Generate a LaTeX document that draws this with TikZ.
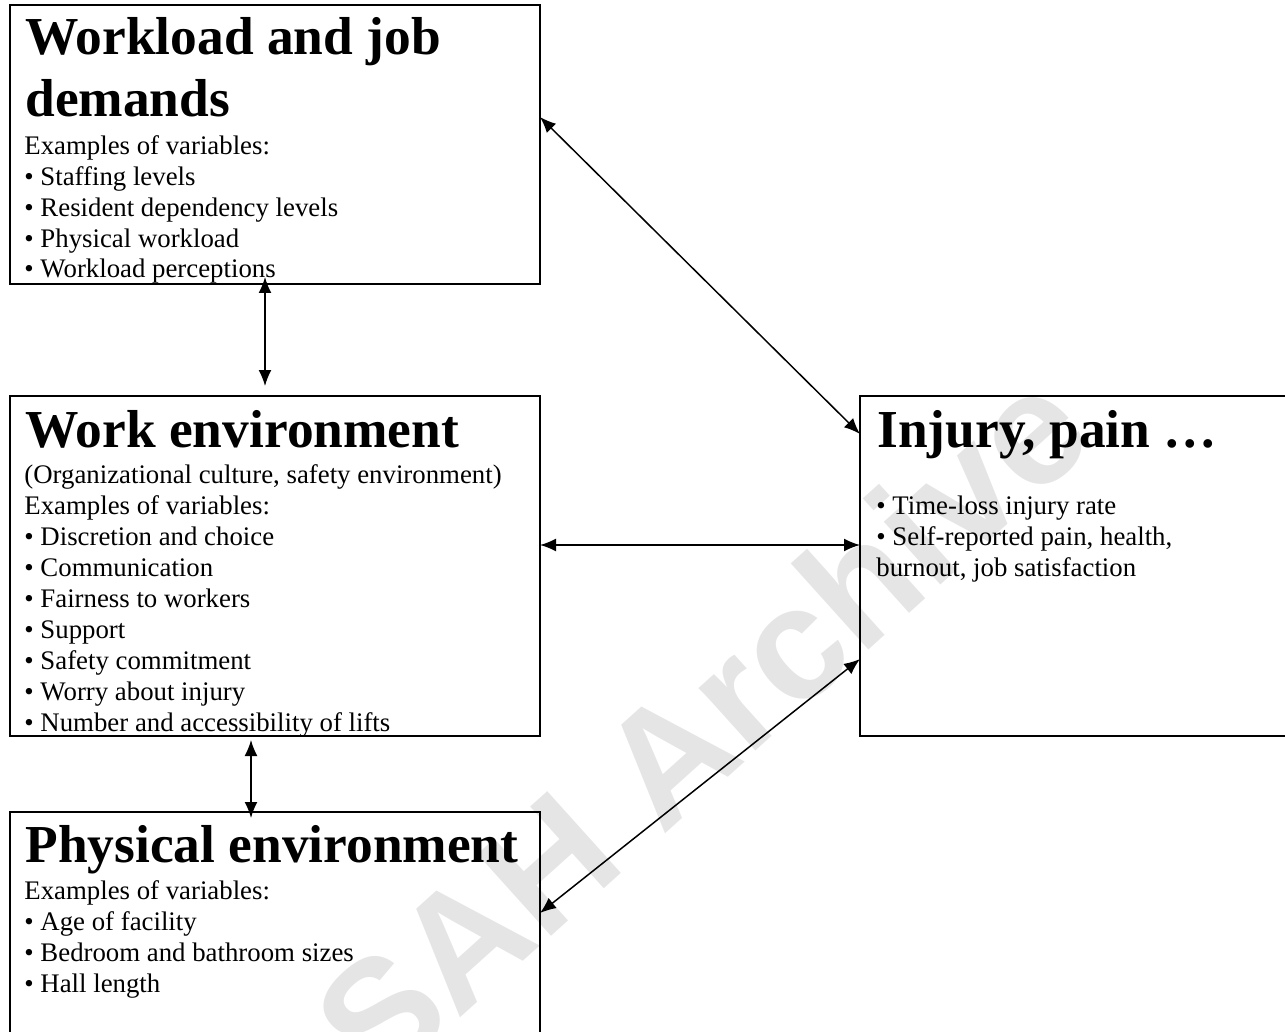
\documentclass[tikz,border=0pt]{standalone}
\usepackage{fontspec}
\setmainfont{Liberation Serif}
\newfontfamily\wmfont{Liberation Sans}
\usetikzlibrary{arrows.meta}
\begin{document}
\begin{tikzpicture}[x=0.5pt,y=-0.5pt,
  box/.style={draw=black, line width=0.8pt, anchor=north west, inner sep=0pt, outer sep=0pt},
  ttl/.style={anchor=base west, inner sep=0pt, font=\fontsize{26.7}{30}\selectfont\bfseries},
  bd/.style={anchor=base west, inner sep=0pt, font=\fontsize{13.4}{15.5}\selectfont},
  arr/.style={line width=0.75pt, {Latex[length=8pt,width=6.5pt]}-{Latex[length=8pt,width=6.5pt]}}]
\useasboundingbox (0,0) rectangle (1285,1032);
\clip (0,0) rectangle (1285,1032);
% watermark
\node[rotate=42, text=black!10, font=\wmfont\bfseries\fontsize{80}{80}\selectfont, inner sep=0pt] (wm) at (700,725) {SAH Archive};
% boxes
\node[box, minimum width=265pt, minimum height=139.5pt] (b1) at (10,5) {};
\node[box, minimum width=265pt, minimum height=170pt] (b2) at (10,396) {};
\node[box, minimum width=265pt, minimum height=125pt] (b3) at (10,812) {};
\node[box, minimum width=225pt, minimum height=170pt] (b4) at (860,396) {};
% box 1
\node[ttl] (t1a) at (25,55) {Workload and job};
\node[ttl] (t1b) at (25,117) {demands};
\node[bd] (l11) at (24,155) {Examples of variables:};
\node[bd] (l12) at (24,186) {• Staffing levels};
\node[bd] (l13) at (24,217) {• Resident dependency levels};
\node[bd] (l14) at (24,248) {• Physical workload};
\node[bd] (l15) at (24,278) {• Workload perceptions};
% box 2
\node[ttl] (t2) at (25,447) {Work environment};
\node[bd] (l21) at (24,483) {(Organizational culture, safety environment)};
\node[bd] (l22) at (24,514) {Examples of variables:};
\node[bd] (l23) at (24,545) {• Discretion and choice};
\node[bd] (l24) at (24,576) {• Communication};
\node[bd] (l25) at (24,607) {• Fairness to workers};
\node[bd] (l26) at (24,638) {• Support};
\node[bd] (l27) at (24,669) {• Safety commitment};
\node[bd] (l28) at (24,700) {• Worry about injury};
\node[bd] (l29) at (24,731) {• Number and accessibility of lifts};
% box 3
\node[ttl] (t3) at (25,862) {Physical environment};
\node[bd] (l31) at (24,899) {Examples of variables:};
\node[bd] (l32) at (24,930) {• Age of facility};
\node[bd] (l33) at (24,961) {• Bedroom and bathroom sizes};
\node[bd] (l34) at (24,992) {• Hall length};
% box 4
\node[ttl] (t4) at (877,447) {Injury, pain …};
\node[bd] (l41) at (876,514) {• Time-loss injury rate};
\node[bd] (l42) at (876,545) {• Self-reported pain, health,};
\node[bd] (l43) at (876,576) {burnout, job satisfaction};
% connectors
\draw[arr, shorten <=-3.5pt, shorten >=5pt] (b1.south -| 265,0) -- (b2.north -| 265,0);
\draw[arr, shorten <=2pt, shorten >=-3pt] (b2.south -| 251,0) -- (b3.north -| 251,0);
\draw[arr] (b1.east |- 0,117) -- (b4.west |- 0,434);
\draw[arr] (b2.east |- 0,545) -- (b4.west |- 0,545);
\draw[arr] (b3.east |- 0,913) -- (b4.west |- 0,659);
\end{tikzpicture}
\end{document}
